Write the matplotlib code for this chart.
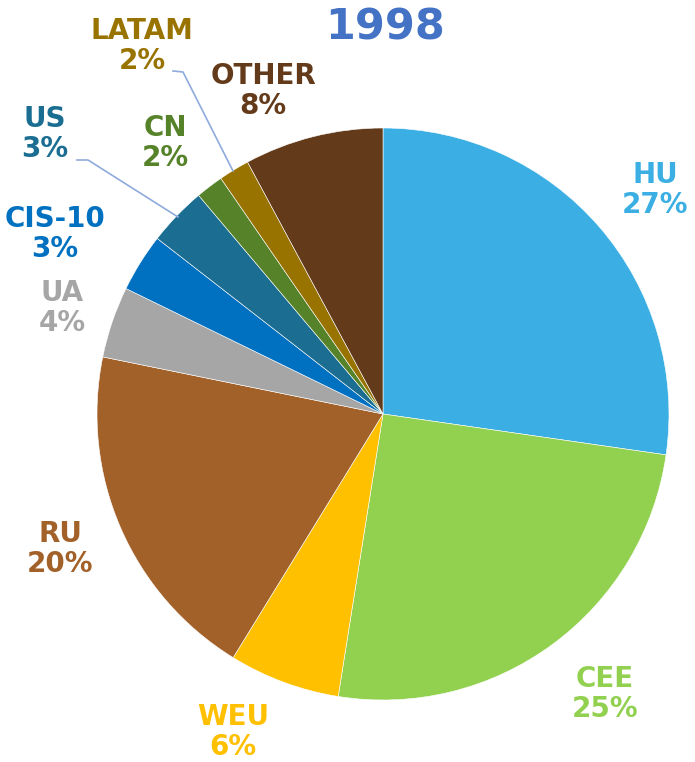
import matplotlib
matplotlib.use("Agg")
import matplotlib.pyplot as plt

# data (share in %, clockwise from the top)
regions = ["HU", "CEE", "WEU", "RU", "UA", "CIS-10", "US", "CN", "LATAM", "OTHER"]
shares = [27.28, 25.22, 6.27, 19.42, 4.03, 3.29, 3.33, 1.56, 1.74, 7.85]
shown_pct = ["27%", "25%", "6%", "20%", "4%", "3%", "3%", "2%", "2%", "8%"]
colors = ["#3BAFE3", "#92D050", "#FFC000", "#A3612A", "#A6A6A6",
          "#0070C0", "#1B6E92", "#568329", "#997300", "#633A1A"]

# label centres in pixels of the 695x762 image
label_px = [(655, 190), (605, 694), (233, 732), (60, 549), (62, 308),
            (55, 234), (45, 134), (165, 143), (142, 46), (263, 91)]

W, H = 695, 762
cx, cy, r = 383, 414, 286

fig = plt.figure(figsize=(W / 100, H / 100), dpi=100)
ax = fig.add_axes([(cx - r) / W, (H - cy - r) / H, 2 * r / W, 2 * r / H])

ax.pie(shares, colors=colors, startangle=90, counterclock=False, radius=1,
       wedgeprops=dict(edgecolor="white", linewidth=0.4))
ax.set_xlim(-1, 1)
ax.set_ylim(-1, 1)
ax.set_aspect("equal")
ax.axis("off")


def to_data(px, py):
    return (px - cx) / r, (cy - py) / r


for name, pct, col, (px, py) in zip(regions, shown_pct, colors, label_px):
    x, y = to_data(px, py)
    ax.text(x, y, name + "\n" + pct, color=col, ha="center", va="center",
            fontsize=20, fontweight="bold", linespacing=1.12, clip_on=False)

# leader lines for the small slices
leaders = [[(77, 160), (88, 160), (178, 217)],
           [(173, 71), (183, 72), (233, 171)]]
for pts in leaders:
    xs, ys = zip(*[to_data(p, q) for p, q in pts])
    ax.plot(xs, ys, color="#8FAADC", linewidth=1.2, clip_on=False)

fig.text(385 / W, 1 - 28 / H, "1998", color="#4472C4", fontsize=31,
         fontweight="bold", ha="center", va="center")

fig.savefig("out.png", dpi=100)
